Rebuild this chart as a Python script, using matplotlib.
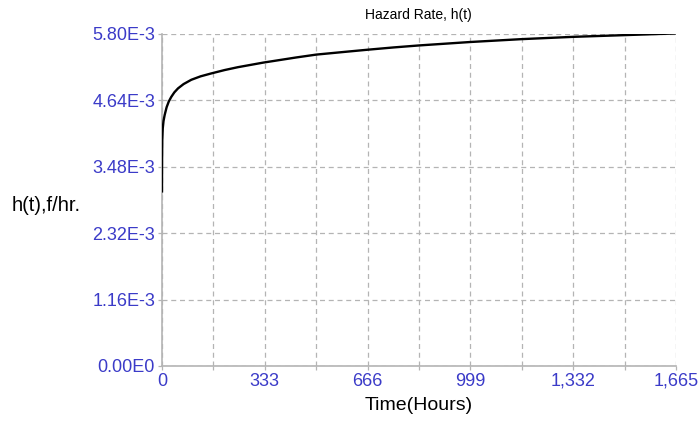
import numpy as np
import matplotlib.pyplot as plt

plt.rcParams['font.family'] = ['Liberation Sans', 'DejaVu Sans']

t = [0, 0.3, 1, 2.5, 5, 8.7, 15, 22, 30, 40, 52, 70, 95, 125, 159, 203, 246,
     328, 435, 500, 597, 666, 750, 833, 999, 1165, 1332, 1498, 1665]
h = [3.05e-3, 3.60e-3, 3.95e-3, 4.15e-3, 4.28e-3, 4.385e-3, 4.52e-3, 4.62e-3,
     4.70e-3, 4.78e-3, 4.85e-3, 4.925e-3, 5.00e-3, 5.06e-3, 5.11e-3, 5.17e-3,
     5.22e-3, 5.30e-3, 5.39e-3, 5.44e-3, 5.49e-3, 5.525e-3, 5.565e-3, 5.60e-3,
     5.66e-3, 5.71e-3, 5.75e-3, 5.78e-3, 5.81e-3]

xticks = [0, 333, 666, 999, 1332, 1665]
xlabels = ['0', '333', '666', '999', '1,332', '1,665']
xminor = [166.5, 499.5, 832.5, 1165.5, 1498.5]
yticks = [0, 1.16e-3, 2.32e-3, 3.48e-3, 4.64e-3, 5.80e-3]
ylabels = ['0.00E0', '1.16E-3', '2.32E-3', '3.48E-3', '4.64E-3', '5.80E-3']

blau = '#3b3bc8'
grau = '#b4b4b4'

fig = plt.figure(figsize=(7, 4.28), dpi=100)
ax = fig.add_axes([0.2314, 0.1449, 0.7343, 0.7757])

ax.plot(t, h, color='black', lw=1.7, zorder=3, solid_joinstyle='round')

ax.set_xlim(0, 1665)
ax.set_ylim(0, 5.80e-3)
ax.set_xticks(xticks)
ax.set_xticklabels(xlabels)
ax.set_xticks(xminor, minor=True)
ax.set_yticks(yticks)
ax.set_yticklabels(ylabels)

ax.grid(True, which='both', color=grau, ls=(0, (4, 3)), lw=0.9)
ax.tick_params(axis='both', which='both', colors=grau, labelcolor=blau,
               labelsize=13, length=3, width=0.9)
ax.tick_params(axis='x', pad=2)
ax.tick_params(axis='y', pad=2)

for s in ['top', 'right']:
    ax.spines[s].set_visible(False)
for s in ['left', 'bottom']:
    ax.spines[s].set_color(grau)
    ax.spines[s].set_linewidth(1.2)

ax.set_xlabel('Time(Hours)', fontsize=14, labelpad=5)
fig.text(0.017, 0.52, 'h(t),f/hr.', fontsize=14.5, va='center', ha='left')
fig.text(0.598, 0.965, 'Hazard Rate, h(t)', fontsize=10, va='center', ha='center')

fig.savefig('out.png', dpi=100)
